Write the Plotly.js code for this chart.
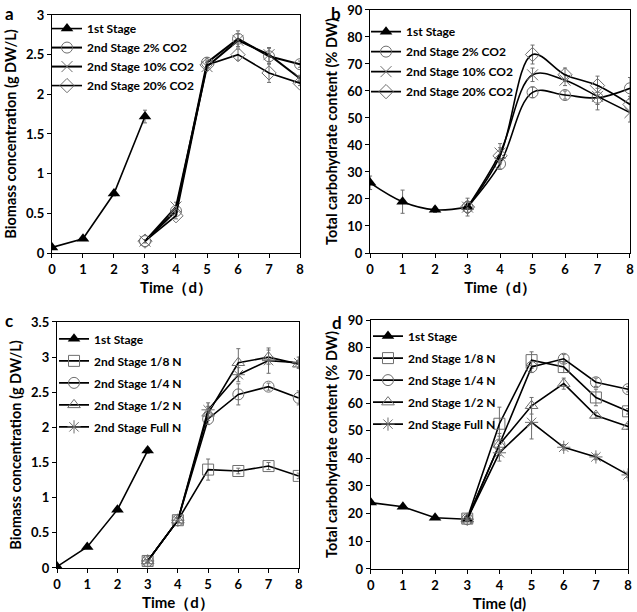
<!DOCTYPE html>
<html>
<head>
<meta charset="utf-8">
<script src="https://cdn.plot.ly/plotly-3.0.1.min.js"></script>
<style>
  body { margin: 0; background: #fff; }
  #plot { width: 637px; height: 612px; }
</style>
</head>
<body>
<div id="plot"></div>
<script>
// Time points
const dayFirst = [0, 1, 2, 3];
const daySecond = [3, 4, 5, 6, 7, 8];

// Panel a: biomass under CO2 levels (g DW/L)
const aFirst = [0.07, 0.18, 0.75, 1.72];
const aFirstErr = [0.01, 0.01, 0.03, 0.08];
const aCo2_2 = [0.15, 0.53, 2.40, 2.70, 2.48, 2.38];
const aCo2_2Err = [0.02, 0.04, 0.06, 0.10, 0.10, 0.04];
const aCo2_10 = [0.15, 0.58, 2.35, 2.68, 2.50, 2.20];
const aCo2_10Err = [0.02, 0.06, 0.05, 0.08, 0.09, 0.04];
const aCo2_20 = [0.15, 0.47, 2.37, 2.50, 2.27, 2.14];
const aCo2_20Err = [0.02, 0.04, 0.05, 0.07, 0.12, 0.03];

// Panel b: carbohydrate content under CO2 levels (% DW)
const bFirst = [26, 19, 16, 17];
const bFirstErr = [2.5, 4.3, 1, 3.3];
const bCo2_2 = [17, 33, 59.5, 58.5, 57.5, 61];
const bCo2_2Err = [2, 2, 2, 1.5, 4.5, 4];
const bCo2_10 = [17, 37, 66, 64, 58, 52];
const bCo2_10Err = [2, 3.5, 2.5, 2, 3, 3.5];
const bCo2_20 = [17, 36, 73.5, 66, 62, 55];
const bCo2_20Err = [2, 3, 3.5, 2.5, 3.5, 3];

// Panel c: biomass under nitrogen levels (g DW/L)
const cFirst = [0.02, 0.3, 0.83, 1.67];
const cFirstErr = [0.01, 0.02, 0.03, 0.04];
const cN8 = [0.1, 0.68, 1.4, 1.38, 1.45, 1.31];
const cN8Err = [0.02, 0.03, 0.15, 0.04, 0.05, 0.04];
const cN4 = [0.1, 0.68, 2.12, 2.47, 2.58, 2.42];
const cN4Err = [0.02, 0.03, 0.08, 0.15, 0.05, 0.1];
const cN2 = [0.1, 0.68, 2.2, 2.92, 3.0, 2.9];
const cN2Err = [0.02, 0.03, 0.1, 0.2, 0.1, 0.05];
const cNFull = [0.1, 0.68, 2.25, 2.75, 2.95, 2.92];
const cNFullErr = [0.02, 0.03, 0.1, 0.1, 0.18, 0.08];

// Panel d: carbohydrate content under nitrogen levels (% DW)
const dFirst = [24, 22.5, 18.5, 18];
const dFirstErr = [0.5, 0.5, 0.5, 0.5];
const dN8 = [18.2, 52.5, 75.5, 73, 62, 57];
const dN8Err = [0.5, 6, 3, 2, 3, 1];
const dN4 = [18, 45, 73, 76, 67.5, 65];
const dN4Err = [0.5, 3, 2, 1.5, 1.5, 1];
const dN2 = [18, 45, 59, 67, 55.5, 51.5];
const dN2Err = [0.5, 4, 3, 2, 1, 1];
const dNFull = [18, 42, 53, 44, 40.5, 34];
const dNFullErr = [0.5, 3, 6, 1, 1, 1];

const FONT = "Lato, 'Liberation Sans', sans-serif";
const GREY = "#6e6e6e";

function firstStage(y, err, xa, ya, leg, shape) {
  return {
    x: dayFirst, y: y, xaxis: xa, yaxis: ya, legend: leg, legendgroup: leg + "-1st",
    name: "1st Stage", mode: "lines+markers", type: "scatter",
    line: { color: "#000", width: 1.6, shape: shape || "linear" },
    marker: { symbol: "triangle-up", size: 11, color: "#000" },
    error_y: { type: "data", array: err, color: GREY, thickness: 1, width: 2 }
  };
}

function secondStage(name, y, err, sym, xa, ya, leg, shape, lw) {
  return {
    x: daySecond, y: y, xaxis: xa, yaxis: ya, legend: leg, legendgroup: leg + name,
    name: name, mode: "lines+markers", type: "scatter",
    line: { color: "#000", width: lw || 1.6, shape: shape || "linear", smoothing: 1 },
    marker: { symbol: sym, size: 11, color: GREY, line: { color: GREY, width: 1 } },
    error_y: { type: "data", array: err, color: GREY, thickness: 1, width: 2 }
  };
}

const data = [
  firstStage(aFirst, aFirstErr, "x", "y", "legend"),
  secondStage("2nd Stage 2% CO2", aCo2_2, aCo2_2Err, "circle-open", "x", "y", "legend", "linear", 2),
  secondStage("2nd Stage 10% CO2", aCo2_10, aCo2_10Err, "x-thin-open", "x", "y", "legend", "linear", 2),
  secondStage("2nd Stage 20% CO2", aCo2_20, aCo2_20Err, "diamond-open", "x", "y", "legend", "linear", 1.6),

  firstStage(bFirst, bFirstErr, "x2", "y2", "legend2", "spline"),
  secondStage("2nd Stage 2% CO2", bCo2_2, bCo2_2Err, "circle-open", "x2", "y2", "legend2", "spline"),
  secondStage("2nd Stage 10% CO2", bCo2_10, bCo2_10Err, "x-thin-open", "x2", "y2", "legend2", "spline"),
  secondStage("2nd Stage 20% CO2", bCo2_20, bCo2_20Err, "diamond-open", "x2", "y2", "legend2", "spline"),

  firstStage(cFirst, cFirstErr, "x3", "y3", "legend3"),
  secondStage("2nd Stage 1/8 N", cN8, cN8Err, "square-open", "x3", "y3", "legend3"),
  secondStage("2nd Stage 1/4 N", cN4, cN4Err, "circle-open", "x3", "y3", "legend3"),
  secondStage("2nd Stage 1/2 N", cN2, cN2Err, "triangle-up-open", "x3", "y3", "legend3"),
  secondStage("2nd Stage Full N", cNFull, cNFullErr, "asterisk-open", "x3", "y3", "legend3"),

  firstStage(dFirst, dFirstErr, "x4", "y4", "legend4"),
  secondStage("2nd Stage 1/8 N", dN8, dN8Err, "square-open", "x4", "y4", "legend4"),
  secondStage("2nd Stage 1/4 N", dN4, dN4Err, "circle-open", "x4", "y4", "legend4"),
  secondStage("2nd Stage 1/2 N", dN2, dN2Err, "triangle-up-open", "x4", "y4", "legend4"),
  secondStage("2nd Stage Full N", dNFull, dNFullErr, "asterisk-open", "x4", "y4", "legend4")
];

function xAxis(domain, anchor, title) {
  return {
    domain: domain, anchor: anchor, range: [0, 8], dtick: 1, tick0: 0,
    showgrid: false, zeroline: false, showline: true, mirror: true,
    linecolor: "#000", linewidth: 1.2, ticks: "outside", ticklen: 4, tickcolor: "#000",
    tickfont: { family: FONT, size: 13, color: "#000", weight: "bold" },
    title: { text: title, font: { family: FONT, size: 15, color: "#000", weight: "bold" }, standoff: 6 }
  };
}

function yAxis(domain, anchor, range, dtick, title) {
  return {
    domain: domain, anchor: anchor, range: range, dtick: dtick, tick0: 0,
    showgrid: false, zeroline: false, showline: true, mirror: true,
    linecolor: "#000", linewidth: 1.2, ticks: "outside", ticklen: 4, tickcolor: "#000",
    tickfont: { family: FONT, size: 13, color: "#000", weight: "bold" },
    title: { text: title, font: { family: FONT, size: 14.5, color: "#000", weight: "bold" }, standoff: 6 }
  };
}

function legendAt(x, y, gap) {
  return {
    x: x, y: y, xanchor: "left", yanchor: "top", xref: "paper", yref: "paper",
    bgcolor: "rgba(0,0,0,0)", borderwidth: 0, tracegroupgap: gap, itemwidth: 30,
    font: { family: FONT, size: 12, color: "#000", weight: "bold" }
  };
}

const labelFont = { family: FONT, size: 17, color: "#000", weight: "bold" };

const layout = {
  width: 637, height: 612,
  margin: { l: 0, r: 0, t: 0, b: 0 },
  paper_bgcolor: "#fff", plot_bgcolor: "#fff",
  showlegend: true,
  xaxis: xAxis([0.0816, 0.471], "y", "Time\uFF08d\uFF09"),
  yaxis: yAxis([0.5866, 0.9755], "x", [0, 3], 0.5, "Biomass concentration (g DW/L)"),
  xaxis2: xAxis([0.581, 0.989], "y2", "Time\uFF08d\uFF09"),
  yaxis2: yAxis([0.5866, 0.9837], "x2", [0, 90], 10, "Total carbohydrate content (% DW)"),
  xaxis3: xAxis([0.0895, 0.469], "y3", "Time\uFF08d\uFF09"),
  yaxis3: yAxis([0.0719, 0.4739], "x3", [0, 3.5], 0.5, "Biomass concentration (g DW/L)"),
  xaxis4: xAxis([0.582, 0.986], "y4", "Time (d)"),
  yaxis4: yAxis([0.0703, 0.4771], "x4", [0, 90], 10, "Total carbohydrate content (% DW)"),
  legend: legendAt(0.0738, 0.977, 0),
  legend2: legendAt(0.5746, 0.972, 1),
  legend3: legendAt(0.0848, 0.470, 3),
  legend4: legendAt(0.5777, 0.4745, 3),
  annotations: [
    { text: "a", x: 0.005, y: 0.998, xref: "paper", yref: "paper", xanchor: "left", yanchor: "top", showarrow: false, font: labelFont },
    { text: "b", x: 0.516, y: 0.998, xref: "paper", yref: "paper", xanchor: "left", yanchor: "top", showarrow: false, font: labelFont },
    { text: "c", x: 0.005, y: 0.497, xref: "paper", yref: "paper", xanchor: "left", yanchor: "top", showarrow: false, font: labelFont },
    { text: "d", x: 0.518, y: 0.493, xref: "paper", yref: "paper", xanchor: "left", yanchor: "top", showarrow: false, font: labelFont }
  ]
};

Plotly.newPlot("plot", data, layout, { displayModeBar: false, staticPlot: true });
</script>
</body>
</html>
